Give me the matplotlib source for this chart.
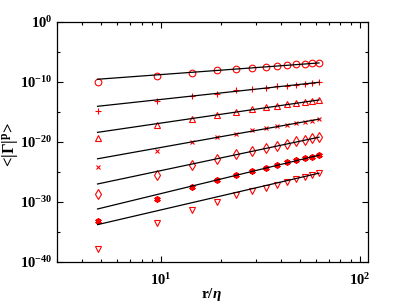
import numpy as np
import matplotlib
matplotlib.use("Agg")
import matplotlib.pyplot as plt
from matplotlib.ticker import FixedLocator, LogLocator, NullFormatter

plt.rcParams["font.family"] = "Liberation Serif"
plt.rcParams["font.weight"] = "bold"
plt.rcParams["mathtext.fontset"] = "custom"
plt.rcParams["mathtext.rm"] = "Liberation Serif:bold"
plt.rcParams["mathtext.it"] = "Liberation Serif:italic:bold"
plt.rcParams["mathtext.bf"] = "Liberation Serif:bold"

# separation r/eta
r_eta = [4.8, 9.6, 14.4, 19.2, 24.0, 28.8, 33.6, 38.4, 43.2, 48.0, 52.8, 57.6, 62.4]

# log10 of <|Gamma|^p>, one list per order p
log_circle = [-10.05, -9.0, -8.45, -8.05, -7.83, -7.6, -7.5, -7.4, -7.2, -7.05, -6.95, -6.9, -6.83]
log_plus = [-14.83, -13.1, -12.4, -11.95, -11.4, -11.17, -10.95, -10.72, -10.6, -10.45, -10.28, -10.17, -10.05]
log_tri_up = [-19.33, -17.2, -16.17, -15.5, -15.0, -14.55, -14.2, -13.95, -13.72, -13.55, -13.33, -13.22, -13.05]
log_cross = [-24.1, -21.45, -20.05, -19.17, -18.6, -18.05, -17.67, -17.33, -17.1, -16.83, -16.6, -16.45, -16.22]
log_diamond = [-28.67, -25.5, -23.83, -22.9, -21.97, -21.45, -21.0, -20.6, -20.28, -19.9, -19.6, -19.4, -19.17]
log_star = [-33.17, -29.45, -27.55, -26.33, -25.45, -24.78, -24.28, -23.83, -23.38, -23.05, -22.72, -22.45, -22.2]
log_tri_down = [-37.78, -33.45, -31.33, -29.95, -28.9, -28.22, -27.6, -27.1, -26.7, -26.2, -25.83, -25.55, -25.17]

# power-law fits: log10(y) = intercept + slope * log10(r/eta)
fit_intercept = [-11.21, -16.50, -21.70, -26.84, -31.77, -36.65, -39.02]
fit_slope = [2.44, 3.59, 4.85, 5.93, 7.0, 8.05, 7.7]

series = [log_circle, log_plus, log_tri_up, log_cross, log_diamond, log_star, log_tri_down]
markers = ["o", "+", "^", "x", "d", (6, 2, 0), "v"]
sizes = [4.8, 5, 5, 3.5, 4.8, 4.5, 5]


def main():
    fig = plt.figure(figsize=(4.07, 3.05), dpi=100)
    ax = fig.add_axes([0.140, 0.141, 0.764, 0.787])

    x = np.array(r_eta)
    for vals, m, ms, a, b in zip(series, markers, sizes, fit_intercept, fit_slope):
        y = 10.0 ** np.array(vals)
        if m in ("+", "x"):
            ax.plot(x, y, linestyle="none", marker=m, ms=ms, color="red", mew=0.8)
        elif isinstance(m, tuple):
            ax.plot(x, y, linestyle="none", marker=m, ms=ms, color="red", mew=1.3)
        else:
            ax.plot(x, y, linestyle="none", marker=m, ms=ms, mfc="none", mec="red", mew=0.8)
        ax.plot(x, 10.0 ** (a + b * np.log10(x)), color="black", lw=0.9, zorder=3)

    ax.set_xscale("log")
    ax.set_yscale("log")
    ax.set_xlim(3, 110)
    ax.set_ylim(1e-40, 1e0)

    ax.yaxis.set_major_locator(FixedLocator([10.0 ** k for k in range(-40, 1, 10)]))
    ax.yaxis.set_minor_locator(FixedLocator([10.0 ** k for k in range(-35, 0, 10)]))
    ax.yaxis.set_minor_formatter(NullFormatter())
    ax.xaxis.set_major_locator(LogLocator(base=10))
    ax.xaxis.set_minor_locator(LogLocator(base=10, subs=np.arange(2, 10)))
    ax.xaxis.set_minor_formatter(NullFormatter())

    ax.tick_params(which="both", direction="in", top=True, right=True,
                   labelsize=10.5, width=0.8)
    ax.tick_params(axis="x", which="major", pad=7)
    ax.tick_params(which="major", length=4)
    ax.tick_params(which="minor", length=2.5)
    for s in ax.spines.values():
        s.set_linewidth(0.9)

    ax.set_xlabel(r"r/$\eta$", fontsize=11, fontweight="bold")
    ax.set_ylabel(r"<|$\Gamma$|$^{\rm p}$>", fontsize=12, fontweight="bold")
    ax.xaxis.set_label_coords(0.498, -0.10)
    ax.yaxis.set_label_coords(-0.118, 0.49)

    fig.savefig("out.png", dpi=100)
    plt.close(fig)


if __name__ == "__main__":
    main()
